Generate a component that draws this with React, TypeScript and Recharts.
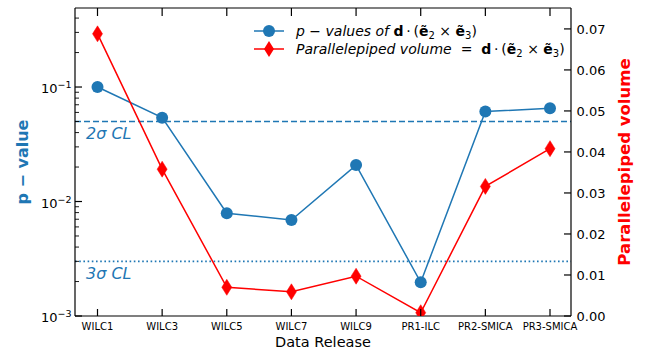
import React from 'react';
import { LineChart, Line, XAxis, YAxis, ReferenceLine, Legend } from 'recharts';

const categories = ['WILC1', 'WILC3', 'WILC5', 'WILC7', 'WILC9', 'PR1-ILC', 'PR2-SMICA', 'PR3-SMICA'];
const pValues = [0.1, 0.054, 0.0079, 0.0069, 0.0208, 0.00197, 0.061, 0.0652];
const volumes = [0.0688, 0.0358, 0.007, 0.0059, 0.0097, 0.0008, 0.0316, 0.0408];

const leftTicks = [
  0.001, 0.002, 0.003, 0.004, 0.005, 0.006, 0.007, 0.008, 0.009,
  0.01, 0.02, 0.03, 0.04, 0.05, 0.06, 0.07, 0.08, 0.09,
  0.1, 0.2, 0.3, 0.4,
];
const leftMajor = [0.001, 0.01, 0.1];
const leftExp = ['\u22123', '\u22122', '\u22121'];
const rightTicks = [0, 0.01, 0.02, 0.03, 0.04, 0.05, 0.06, 0.07];
const sigma2 = 0.05;
const sigma3 = 0.003;

const BLUE = '#1f77b4';
const RED = '#ff0000';
const FONT = 'DejaVu Sans';

const data = categories.map((name, i) => ({ name, p: pValues[i], v: volumes[i] }));

const LeftTick = (props: any) => {
  const { x, y, payload } = props;
  const idx = leftMajor.indexOf(payload.value);
  const major = idx >= 0;
  return (
    <g>
      <line x1={x} x2={x + (major ? 7 : 4)} y1={y} y2={y} stroke="#000" strokeWidth={major ? 1.2 : 0.9} />
      {major && (
        <text x={x - 3.5} y={y + 6} textAnchor="end" fontSize={13} fontFamily={FONT} fill="#000">
          10
          <tspan fontSize={9.5} dy={-5}>{leftExp[idx]}</tspan>
        </text>
      )}
    </g>
  );
};

const RightTick = (props: any) => {
  const { x, y, payload } = props;
  return (
    <g>
      <line x1={x - 7} x2={x} y1={y} y2={y} stroke="#000" strokeWidth={1.2} />
      <text x={x + 5.5} y={y + 4.8} textAnchor="start" fontSize={13} fontFamily={FONT} fill="#000">
        {Number(payload.value).toFixed(2)}
      </text>
    </g>
  );
};

const BottomTick = (props: any) => {
  const { x, y, payload } = props;
  return (
    <g>
      <line x1={x} x2={x} y1={y - 7} y2={y} stroke="#000" strokeWidth={1.2} />
      <text x={x} y={y + 14} textAnchor="middle" fontSize={10} fontFamily={FONT} fill="#000">
        {payload.value}
      </text>
    </g>
  );
};

const TopTick = (props: any) => {
  const { x, y } = props;
  return <line x1={x} x2={x} y1={y} y2={y + 8} stroke="#000" strokeWidth={1.2} />;
};

const Diamond = (props: any) => {
  const { cx, cy, index } = props;
  if (cx == null || cy == null) return <g key={`d${index}`} />;
  return (
    <path
      key={`d${index}`}
      d={`M${cx},${cy - 8} L${cx + 5},${cy} L${cx},${cy + 8} L${cx - 5},${cy} Z`}
      fill={RED}
      stroke={RED}
      strokeWidth={0.5}
    />
  );
};

const MathTail = () => (
  <>
    <tspan fontWeight="bold">d</tspan>
    <tspan>{'\u2009\u00b7\u2009('}</tspan>
    <tspan fontWeight="bold">{'\u1ebd'}</tspan>
    <tspan fontSize={10} dy={3}>2</tspan>
    <tspan dy={-3}>{' \u00d7 '}</tspan>
    <tspan fontWeight="bold">{'\u1ebd'}</tspan>
    <tspan fontSize={10} dy={3}>3</tspan>
    <tspan dy={-3}>)</tspan>
  </>
);

const LegendContent = () => (
  <svg width={330} height={42} style={{ display: 'block', overflow: 'visible' }}>
    <line x1={4} x2={34} y1={13} y2={13} stroke={BLUE} strokeWidth={1.5} />
    <circle cx={19} cy={13} r={6} fill={BLUE} />
    <text x={46} y={18} fontSize={14} fontFamily={FONT} fill="#000">
      <tspan fontStyle="italic">p {'\u2212'} values of </tspan>
      <MathTail />
    </text>
    <line x1={4} x2={34} y1={31} y2={31} stroke={RED} strokeWidth={1.5} />
    <path d="M19,23 L24,31 L19,39 L14,31 Z" fill={RED} />
    <text x={46} y={36} fontSize={14} fontFamily={FONT} fill="#000">
      <tspan fontStyle="italic">Parallelepiped volume</tspan>
      <tspan>{'\u00a0\u00a0=\u00a0\u00a0'}</tspan>
      <MathTail />
    </text>
  </svg>
);

const refLabel = (txt: string) => (props: any) => {
  const vb = props.viewBox || { x: 75, y: 0 };
  return (
    <text x={vb.x + 11} y={vb.y + 17.5} fontSize={16} fontStyle="italic" fontFamily={FONT} fill={BLUE}>
      {txt}
    </text>
  );
};

export default function App() {
  return (
    <div style={{ position: 'absolute', left: 0, top: 0, background: '#fff' }}>
      <LineChart width={652} height={353} data={data} margin={{ top: 0, right: 0, bottom: 0, left: 0 }}>
        <XAxis
          xAxisId="bottom"
          dataKey="name"
          type="category"
          scale="point"
          padding={{ left: 22.5, right: 21 }}
          interval={0}
          height={37}
          tickLine={false}
          tickSize={0}
          tickMargin={0}
          tick={<BottomTick />}
          axisLine={{ stroke: '#000', strokeWidth: 1.2 }}
          label={(props: any) => {
            const vb = props.viewBox || { x: 75, y: 316, width: 496 };
            return (
              <text x={vb.x + vb.width / 2} y={vb.y + 31} textAnchor="middle" fontSize={14.5} fontFamily={FONT} fill="#000">
                Data Release
              </text>
            );
          }}
        />
        <XAxis
          xAxisId="top"
          orientation="top"
          dataKey="name"
          type="category"
          scale="point"
          padding={{ left: 22.5, right: 21 }}
          interval={0}
          height={8}
          tickLine={false}
          tickSize={0}
          tickMargin={0}
          tick={<TopTick />}
          axisLine={{ stroke: '#000', strokeWidth: 1.2 }}
        />
        <YAxis
          yAxisId="left"
          type="number"
          scale="log"
          domain={[0.001, 0.49]}
          allowDataOverflow
          ticks={leftTicks}
          interval={0}
          width={75}
          tickLine={false}
          tickSize={0}
          tickMargin={0}
          tick={<LeftTick />}
          axisLine={{ stroke: '#000', strokeWidth: 1.2 }}
          label={(props: any) => {
            const vb = props.viewBox || { x: 0, y: 8, height: 308 };
            const cx = vb.x + 22;
            const cy = vb.y + vb.height / 2;
            return (
              <text
                x={cx}
                y={cy}
                transform={`rotate(-90 ${cx} ${cy})`}
                textAnchor="middle"
                dominantBaseline="central"
                fontSize={16}
                fontWeight="bold"
                fontFamily={FONT}
                fill={BLUE}
              >
                p {'\u2212'} value
              </text>
            );
          }}
        />
        <YAxis
          yAxisId="right"
          orientation="right"
          type="number"
          domain={[0, 0.0751]}
          allowDataOverflow
          ticks={rightTicks}
          interval={0}
          width={81}
          tickLine={false}
          tickSize={0}
          tickMargin={0}
          tick={<RightTick />}
          axisLine={{ stroke: '#000', strokeWidth: 1.2 }}
          label={(props: any) => {
            const vb = props.viewBox || { x: 571, y: 8, height: 308 };
            const cx = vb.x + 53.5;
            const cy = vb.y + vb.height / 2;
            return (
              <text
                x={cx}
                y={cy}
                transform={`rotate(-90 ${cx} ${cy})`}
                textAnchor="middle"
                dominantBaseline="central"
                fontSize={16.5}
                fontWeight="bold"
                fontFamily={FONT}
                fill={RED}
              >
                Parallelepiped volume
              </text>
            );
          }}
        />
        <ReferenceLine
          xAxisId="bottom"
          yAxisId="left"
          y={sigma2}
          stroke={BLUE}
          strokeWidth={1.5}
          strokeDasharray="6 3"
          label={refLabel('2\u03c3 CL')}
        />
        <ReferenceLine
          xAxisId="bottom"
          yAxisId="left"
          y={sigma3}
          stroke={BLUE}
          strokeWidth={1.6}
          strokeDasharray="1.6 2.6"
          label={refLabel('3\u03c3 CL')}
        />
        <Line
          xAxisId="bottom"
          yAxisId="left"
          dataKey="p"
          stroke={BLUE}
          strokeWidth={1.5}
          dot={{ r: 6, fill: BLUE, stroke: BLUE, strokeWidth: 0 }}
          activeDot={false}
          isAnimationActive={false}
        />
        <Line
          xAxisId="bottom"
          yAxisId="right"
          dataKey="v"
          stroke={RED}
          strokeWidth={1.5}
          dot={Diamond}
          activeDot={false}
          isAnimationActive={false}
        />
        <Legend
          layout="vertical"
          align="center"
          verticalAlign="middle"
          wrapperStyle={{ left: 250, top: 18, width: 330, height: 42 }}
          content={LegendContent}
        />
      </LineChart>
    </div>
  );
}
